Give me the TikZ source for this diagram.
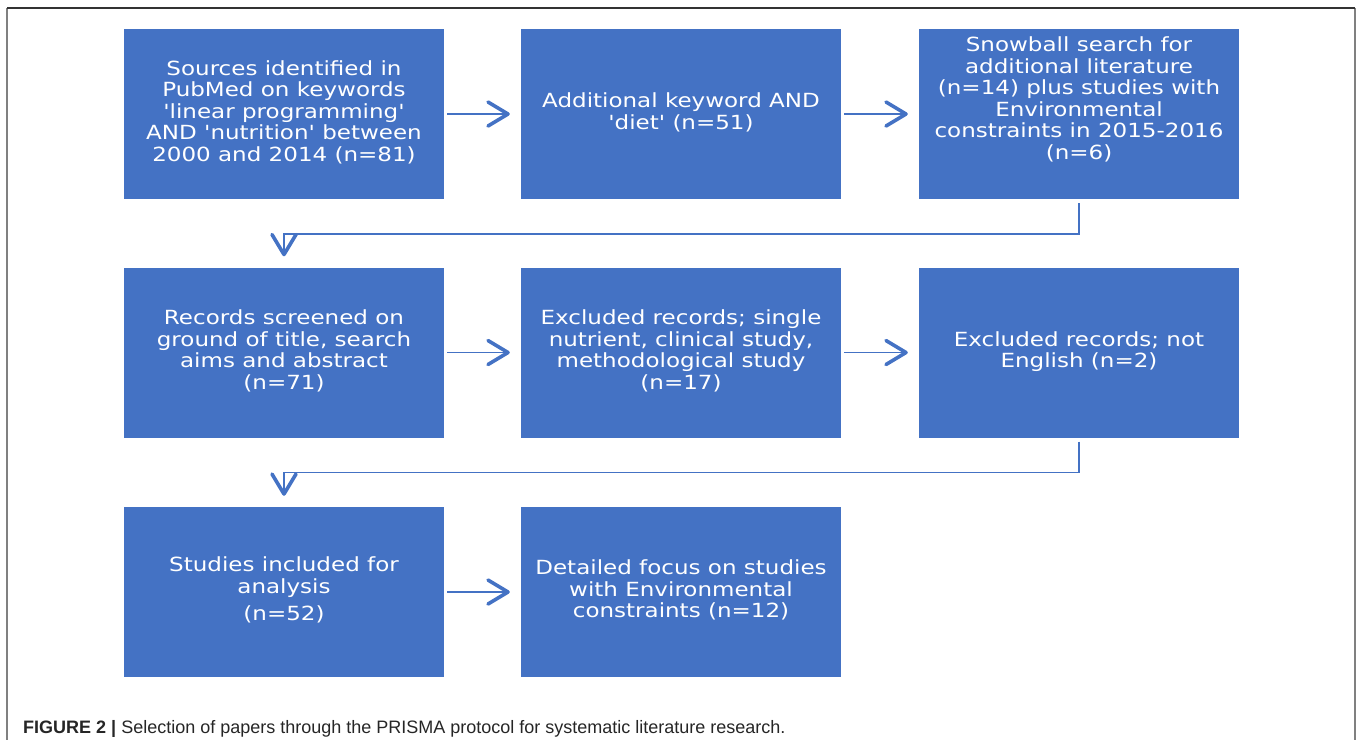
\documentclass[tikz,border=0pt]{standalone}
\usepackage{fontspec}
\usepackage{graphicx}
\newfontfamily\boxfont{DejaVu Sans}
\newfontfamily\capfont{Liberation Sans}
\usetikzlibrary{arrows.meta}
\definecolor{boxblue}{HTML}{4472C4}
\definecolor{framegray}{HTML}{808080}
\newcommand{\boxlines}[1]{\scalebox{1.18}[1]{\begin{tabular}{@{}c@{}}#1\end{tabular}}}
\tikzset{
	stage/.style={fill=boxblue, text=white, minimum width=320pt, minimum height=170pt, inner sep=0pt, font=\boxfont\fontsize{19.5}{21.5}\selectfont},
	flow/.style={draw=boxblue, line width=0.5mm, -{Straight Barb[length=20pt,width=24pt,line width=3.6pt 0,round]}}
}
\begin{document}
\begin{tikzpicture}[x=1pt,y=-1pt]
					\useasboundingbox (0,0) rectangle (1357,740);
					\draw[framegray, line width = 0.7mm] (7,8) -- (7,740);
					\draw[framegray, line width = 0.7mm] (1355,8) -- (1355,740);
					\draw[black!80, line width = 0.5mm] (7,8) -- (1355,8);
					
					\node[stage] (src) at (284,114) {\boxlines{Sources identified in\\PubMed on keywords\\'linear programming'\\AND 'nutrition' between\\2000 and 2014 (n=81)}};
					\node[stage] (kw) at (681,114) {\boxlines{Additional keyword AND\\'diet' (n=51)}};
					\node[stage, label={[text=white, font=\boxfont\fontsize{19.5}{21.5}\selectfont, yshift=13pt]center:\boxlines{Snowball search for\\additional literature\\(n=14) plus studies with\\Environmental\\constraints in 2015-2016\\(n=6)}}] (snow) at (1079,114) {};
					
					\node[stage] (screen) at (284,352.5) {\boxlines{Records screened on\\ground of title, search\\aims and abstract\\(n=71)}};
					\node[stage] (excl1) at (681,352.5) {\boxlines{Excluded records; single\\nutrient, clinical study,\\methodological study\\(n=17)}};
					\node[stage] (excl2) at (1079,352.5) {\boxlines{Excluded records; not\\English (n=2)}};
					
					\node[stage] (incl) at (284,592) {\boxlines{Studies included for\\analysis\\[6pt](n=52)}};
					\node[stage] (focus) at (681,592) {\boxlines{Detailed focus on studies\\with Environmental\\constraints (n=12)}};
					
					\draw[flow] ([xshift=3pt]src.east) -- ([xshift=-11pt]kw.west);
					\draw[flow] ([xshift=3pt]kw.east) -- ([xshift=-11pt]snow.west);
					\draw[flow] ([yshift=-4pt]snow.south) -- ++(0,31) -| ([yshift=11pt]screen.north);
					
					\draw[flow] ([xshift=3pt]screen.east) -- ([xshift=-11pt]excl1.west);
					\draw[flow] ([xshift=3pt]excl1.east) -- ([xshift=-11pt]excl2.west);
					\draw[flow] ([yshift=-4pt]excl2.south) -- ++(0,31) -| ([yshift=11pt]incl.north);
					
					\draw[flow] ([xshift=3pt]incl.east) -- ([xshift=-11pt]focus.west);
					
					\node[anchor=base west, inner sep=0pt, text=black!85, font=\capfont\fontsize{18}{21}\selectfont] (caption) at (23,733) {\textbf{FIGURE 2 |} Selection of papers through the PRISMA protocol for systematic literature research.};
\end{tikzpicture}
\end{document}
